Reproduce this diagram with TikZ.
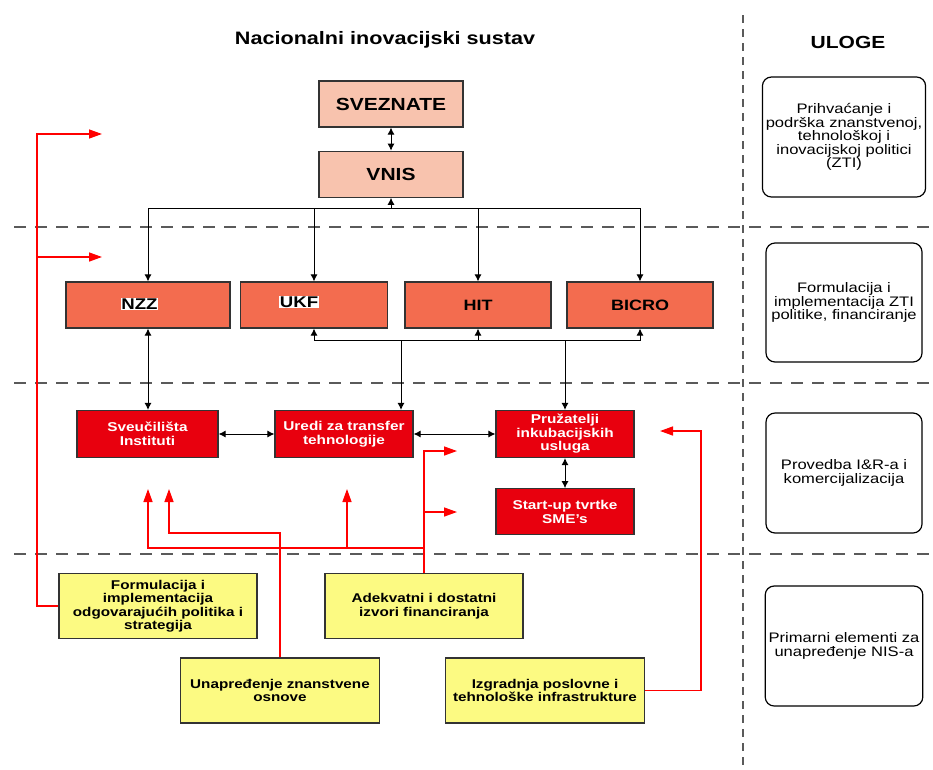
\documentclass[tikz,border=0pt]{standalone}
\usepackage{fontspec}
\setmainfont{Liberation Sans}[FakeStretch=1.2]
\usetikzlibrary{arrows.meta,positioning}
\definecolor{topfill}{HTML}{F8C3AE}
\definecolor{agfill}{HTML}{F36C4F}
\definecolor{actfill}{HTML}{E8000E}
\definecolor{elemfill}{HTML}{FCFA82}
\definecolor{boxline}{HTML}{333333}
\definecolor{sepgray}{HTML}{5A5A5A}

\begin{document}
\begin{tikzpicture}[
      x=1pt,y=-1pt,
      node distance=23pt,
      >={Latex[length=7pt,width=7pt]},
      box/.style={rectangle,draw=boxline,line width=1.2pt,inner sep=1pt,align=center},
      toprow/.style={box,fill=topfill,minimum width=144pt,minimum height=46pt,font=\fontsize{17.5}{20}\bfseries},
      agency/.style={box,fill=agfill,minimum height=46pt,font=\fontsize{15}{17}\bfseries},
      actor/.style={box,fill=actfill,text=white,minimum width=138pt,minimum height=47pt,font=\fontsize{12.8}{13.5}\bfseries},
      elem/.style={box,fill=elemfill,minimum width=198pt,minimum height=65pt,font=\fontsize{12.7}{13.5}\bfseries},
      role/.style={rectangle,rounded corners=9pt,draw,line width=1.2pt,minimum width=156pt,minimum height=120pt,align=center,font=\fontsize{13.8}{13.5}\selectfont},
      tag/.style={fill=white,inner sep=0.8pt,font=\fontsize{15.5}{17}\bfseries},
      sep/.style={draw=sepgray,line width=1.5pt,dash pattern=on 12pt off 9pt},
      vsep/.style={draw=sepgray,line width=1.3pt,dash pattern=on 8pt off 6pt},
      link/.style={line width=0.9pt},
      redlink/.style={draw=red,line width=1.4pt,-{Triangle[length=13pt,width=9pt]}}
    ]
    \useasboundingbox (0,0) rectangle (933,769);

    % dashed separators
    \draw[sep] (14,227) -- (933,227);
    \draw[sep] (14,383) -- (933,383);
    \draw[sep] (14,554) -- (933,554);
    \draw[vsep] (743,15) -- (743,769);

    % headings
    \node[font=\fontsize{18}{20}\bfseries] (title) at (385,40) {Nacionalni inovacijski sustav};
    \node[font=\fontsize{17.5}{20}\bfseries] (uloge) at (848,42) {ULOGE};

    % national level
    \node[toprow] (svez) at (391,104) {SVEZNATE};
    \node[toprow,below=23pt of svez] (vnis) {VNIS};

    % agencies
    \node[agency,minimum width=164pt,label={[tag,xshift=-8.5pt,yshift=1pt]center:NZZ}] (nzz) at (148,305) {};
    \node[agency,minimum width=147pt,label={[tag,xshift=-15pt,yshift=3pt]center:UKF}] (ukf) at (314,305) {};
    \node[agency,minimum width=146pt] (hit) at (478,305) {HIT};
    \node[agency,minimum width=146pt] (bicro) at (640,305) {BICRO};

    % actors
    \node[actor,minimum width=141pt] (sveu) at (147.5,434) {Sveučilišta\\Instituti};
    \node[actor] (uredi) at (344,434) {Uredi za transfer\\tehnologije};
    \node[actor] (pruz) at (565,434) {Pružatelji\\inkubacijskih\\usluga};
    \node[actor,minimum height=46pt,below=30pt of pruz] (start) {Start-up tvrtke\\SME's};

    % primary elements
    \node[elem] (form) at (158,606) {Formulacija i\\implementacija\\odgovarajućih politika i\\strategija};
    \node[elem] (adek) at (424,606) {Adekvatni i dostatni\\izvori financiranja};
    \node[elem,minimum width=199pt] (unap) at (280,690.5) {Unapređenje znanstvene\\osnove};
    \node[elem,minimum width=199pt] (izgr) at (545,690.5) {Izgradnja poslovne i\\tehnološke infrastrukture};

    % roles
    \node[role] (r1) at (844,137) {Prihvaćanje i\\podrška znanstvenoj,\\tehnološkoj i\\inovacijskoj politici\\(ZTI)};
    \node[role,minimum height=119pt] (r2) at (844,302.5) {Formulacija i\\implementacija ZTI\\politike, financiranje};
    \node[role] (r3) at (844,473) {Provedba I\&R-a i\\komercijalizacija};
    \node[role] (r4) at (844,646) {Primarni elementi za\\unapređenje NIS-a};

    % black connectors
    \coordinate (vbar) at (391,208);
    \coordinate (abar) at (401,340);
    \coordinate (bbar) at (565,340);
    \draw[link,<->] (svez) -- (vnis);
    \draw[link,->] (vbar) -- (vnis);
    \draw[link,->] (vbar) -| (nzz);
    \draw[link,->] (vbar) -| (ukf);
    \draw[link,->] (vbar) -| (hit);
    \draw[link,->] (vbar) -| (bicro);
    \draw[link,->] (abar) -| (ukf);
    \draw[link,->] (bbar) -| (hit);
    \draw[link,->] (bbar) -| (bicro);
    \draw[link] (abar) -- (bbar);
    \draw[link,->] (abar) -- (abar |- uredi.north);
    \draw[link,->] (bbar) -- (pruz);
    \draw[link,<->] (nzz.south) -- (nzz.south |- sveu.north);
    \draw[link,<->] (sveu) -- (uredi);
    \draw[link,<->] (uredi) -- (pruz);
    \draw[link,<->] (pruz) -- (start);

    % red connectors
    \coordinate (polx) at (37,134);
    \coordinate (pola) at (102,134);
    \coordinate (polb) at (102,257);
    \draw[redlink] (form.west) -| (polx) -- (pola);
    \draw[redlink] (polx |- polb) -- (polb);

    \coordinate (scik) at (169,533);
    \coordinate (scia) at (169,489);
    \draw[redlink] (unap.north) |- (scik) -- (scia);

    \coordinate (fink) at (424,548);
    \coordinate (fina) at (457,451);
    \coordinate (finb) at (457,512);
    \coordinate (finc) at (148,489);
    \coordinate (find) at (347,489);
    \draw[redlink] (adek.north) |- (fina);
    \draw[redlink] (adek.north |- finb) -- (finb);
    \draw[redlink] (fink) -| (finc);
    \draw[redlink] (find |- fink) -- (find);

    \coordinate (infk) at (701,431);
    \coordinate (infa) at (660,431);
    \draw[redlink] (izgr.east) -| (infk) -- (infa);
  \end{tikzpicture}
\end{document}
